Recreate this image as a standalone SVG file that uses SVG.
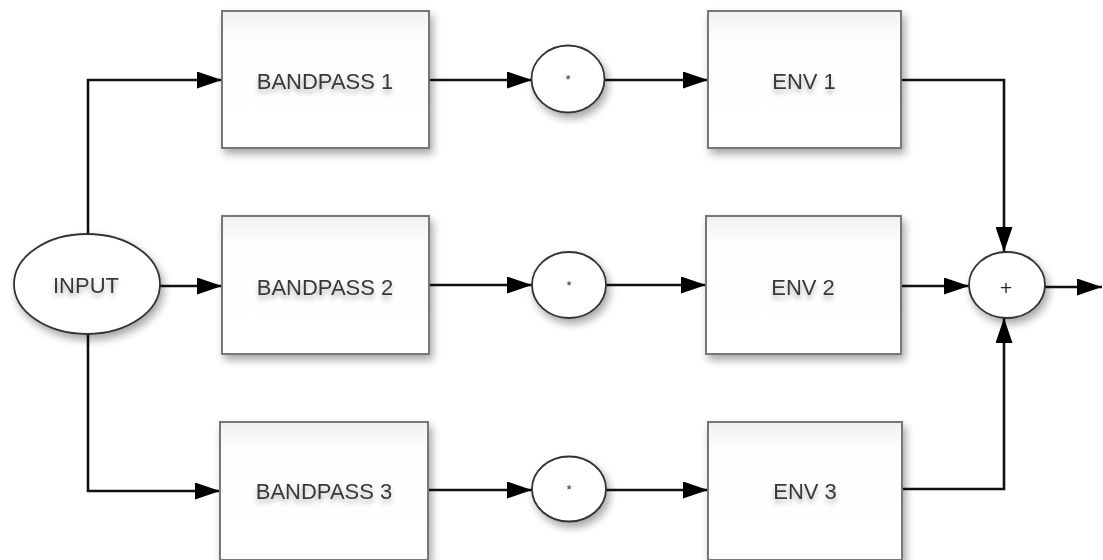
<svg xmlns="http://www.w3.org/2000/svg" width="1103" height="560" viewBox="0 0 1103 560">
  <defs>
    <filter id="shadow" x="-20%" y="-20%" width="150%" height="150%">
      <feGaussianBlur in="SourceAlpha" stdDeviation="4"/>
      <feOffset dx="3" dy="5" result="b"/>
      <feComponentTransfer><feFuncA type="linear" slope="0.35"/></feComponentTransfer>
      <feMerge><feMergeNode/><feMergeNode in="SourceGraphic"/></feMerge>
    </filter>
    <filter id="tshadow" x="-20%" y="-50%" width="140%" height="220%">
      <feGaussianBlur in="SourceAlpha" stdDeviation="2.5"/>
      <feOffset dx="0" dy="4" result="b"/>
      <feComponentTransfer><feFuncA type="linear" slope="0.3"/></feComponentTransfer>
      <feMerge><feMergeNode/><feMergeNode in="SourceGraphic"/></feMerge>
    </filter>
    <linearGradient id="boxfill" x1="0" y1="0" x2="0" y2="1">
      <stop offset="0" stop-color="#f0f0f0"/>
      <stop offset="0.2" stop-color="#fdfdfd"/>
      <stop offset="1" stop-color="#ffffff"/>
    </linearGradient>
    <marker id="arrow" viewBox="0 0 25 17" refX="25" refY="8.5" markerWidth="25" markerHeight="17" markerUnits="userSpaceOnUse" orient="auto">
      <path d="M0,0 L25,8.5 L0,17 Z" fill="#000"/>
    </marker>
  </defs>
  <style>
    .box { fill: url(#boxfill); stroke: #777; stroke-width: 2; filter: url(#shadow); }
    .op { fill: #fff; stroke: #333; stroke-width: 1.8; filter: url(#shadow); }
    .label { font-family: "Liberation Sans", Arial, sans-serif; font-size: 22px; fill: #383838; text-anchor: middle; filter: url(#tshadow); }
    .sym { font-family: "Liberation Sans", Arial, sans-serif; font-size: 13px; fill: #333; text-anchor: middle; }
    .plus { font-family: "DejaVu Sans", sans-serif; font-size: 16px; fill: #222; text-anchor: middle; }
    .wire { fill: none; stroke: #111; stroke-width: 2.6; }
    .wire.tip { marker-end: url(#arrow); }
  </style>

  <rect width="1103" height="560" fill="#fff"/>

  <!-- signal paths -->
  <g id="connectors">
    <path class="wire tip" d="M88,236 V80 H222"/>
    <path class="wire tip" d="M160,286 H222"/>
    <path class="wire tip" d="M88,334 V491 H220"/>

    <path class="wire tip" d="M429,80 H532"/>
    <path class="wire tip" d="M429,285 H532"/>
    <path class="wire tip" d="M428,490 H532"/>

    <path class="wire tip" d="M605,80 H708"/>
    <path class="wire tip" d="M606,285 H706"/>
    <path class="wire tip" d="M606,490 H708"/>

    <path class="wire tip" d="M901,80 H1004 V252"/>
    <path class="wire tip" d="M901,286 H969"/>
    <path class="wire tip" d="M902,489 H1004 V318"/>

    <path class="wire tip" d="M1045,287 H1102"/>
  </g>

  <g id="input">
    <ellipse class="op" cx="87" cy="284" rx="73" ry="50"/>
    <text class="label" x="86" y="293">INPUT</text>
  </g>

  <g id="bandpass1">
    <rect class="box" x="222" y="11" width="207" height="137"/>
    <text class="label" x="325" y="89">BANDPASS 1</text>
  </g>
  <g id="bandpass2">
    <rect class="box" x="222" y="216" width="207" height="138"/>
    <text class="label" x="325" y="295">BANDPASS 2</text>
  </g>
  <g id="bandpass3">
    <rect class="box" x="220" y="422" width="208" height="138"/>
    <text class="label" x="324" y="499">BANDPASS 3</text>
  </g>

  <g id="mult1">
    <ellipse class="op" cx="568" cy="79" rx="36.5" ry="33.5"/>
    <text class="sym" x="568" y="84">*</text>
  </g>
  <g id="mult2">
    <ellipse class="op" cx="569" cy="285" rx="37" ry="33"/>
    <text class="sym" x="569" y="290">*</text>
  </g>
  <g id="mult3">
    <ellipse class="op" cx="569" cy="489" rx="37" ry="32.5"/>
    <text class="sym" x="569" y="494">*</text>
  </g>

  <g id="env1">
    <rect class="box" x="708" y="11" width="193" height="137"/>
    <text class="label" x="804" y="89">ENV 1</text>
  </g>
  <g id="env2">
    <rect class="box" x="706" y="216" width="195" height="138"/>
    <text class="label" x="803" y="295">ENV 2</text>
  </g>
  <g id="env3">
    <rect class="box" x="708" y="422" width="194" height="138"/>
    <text class="label" x="805" y="499">ENV 3</text>
  </g>

  <g id="sum">
    <ellipse class="op" cx="1007" cy="285" rx="38" ry="33"/>
    <text class="plus" x="1006" y="293">+</text>
  </g>
</svg>
